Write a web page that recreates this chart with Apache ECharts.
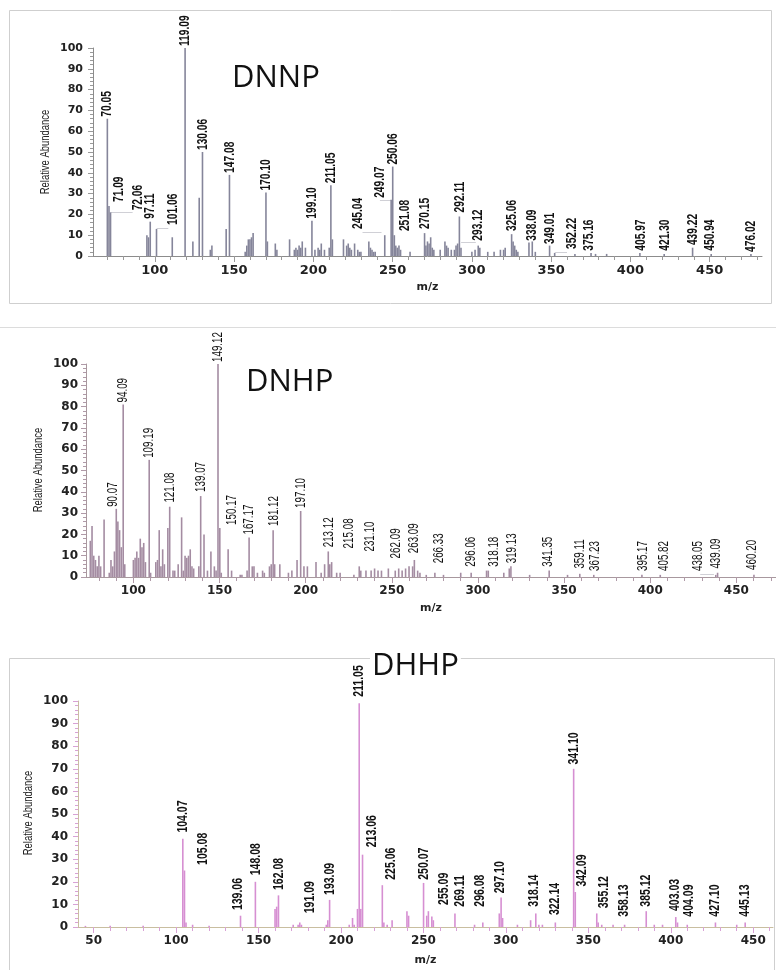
<!DOCTYPE html>
<html>
<head>
<meta charset="utf-8">
<script src="https://cdn.jsdelivr.net/npm/echarts@6/dist/echarts.min.js"></script>
<style>
  html, body { margin: 0; padding: 0; background: #fff; }
  #chart { width: 776px; height: 970px; }
</style>
</head>
<body>
<div id="chart"></div>
<script>
// [m/z, relative abundance]
const dnnpPeaks = [[70.05,66],[71.09,24],[72.06,21],[95,10],[96,9],[97.11,16.5],[101.06,13],[111,9],[119.09,100],[124,7],[128,28],[130.06,50],[135,3],[136,5],[145,13],[147.08,39],[157,2],[158,5],[159,8],[160,8],[161,9],[162,11],[170.10,30.5],[171,7],[176,6],[177,3],[185,8],[188,3],[189,4],[190,3],[191,5],[192,4],[193,7],[195,4],[199.10,17],[201,3],[203,4],[204,3],[205,6],[207,3],[210,4],[211.05,34],[212,8],[219,8],[221,5],[222,6],[223,4],[224,3],[226,6],[228,3],[229,2],[230,2],[235,7],[236,4],[237,3],[238,2],[239,2],[245.04,10],[249.07,27],[250.06,43],[251.08,10],[252,5],[253,4],[254,5],[255,3],[261,2],[270.15,11],[271,5],[272,7],[273,6],[274,9],[275,4],[276,3],[280,3],[283,7],[284,5],[285,4],[287,3],[289,3],[290,5],[291,6],[292.11,19],[293.12,4],[300,2],[302,3],[304,5],[305,4],[310,2],[314,2],[318,3],[320,3],[321,4],[325.06,10.5],[326,7],[327,5],[328,3],[329,2],[336,6.5],[338.09,7],[340,2],[349.01,5],[352.22,1.5],[365,1],[375.16,1.5],[378,1],[385,1],[405.97,1.5],[421.30,1],[439.22,4],[450.94,1],[476.02,1]];
// [text, label m/z, label abundance]
const dnnpLabels = [["70.05",70.05,66],["71.09",77,25],["72.06",89,21],["97.11",97.11,17],["101.06",111.6,14],["119.09",119.09,100],["130.06",130.06,50],["147.08",147.08,39],["170.10",170.10,30.5],["199.10",199.10,17],["211.05",211.05,34],["245.04",228,12],["249.07",242,27],["250.06",250.06,43],["251.08",258,11],["270.15",270.15,12],["292.11",292.11,20],["293.12",304,6.4],["325.06",325.06,11],["338.09",338.09,6.4],["349.01",349.4,4.8],["352.22",362.8,2.4],["375.16",374,1.6],["405.97",406.8,1.6],["421.30",422,1.6],["439.22",439.7,4.3],["450.94",449.8,1.6],["476.02",476,1]];
// leader lines from a peak to its shifted label: [from m/z, to m/z, abundance]
const dnnpLeaders = [[72.2,86,21],[101.2,108.5,13.5],[231,243,11.5],[242,249,27],[293.2,302.5,6.4],[352.5,360,2]];

const dnhpPeaks = [[75,17],[76,24],[77,10],[78,8],[79,5],[80,10],[81,5],[83,27],[86,2],[87,8],[88,5],[89,12],[90.07,32],[91,26],[92,22],[93,14],[94.09,81],[95,6],[100,8],[101,9],[102,12],[103,9],[104,18],[105,14],[106,16],[107,7],[109.19,55],[110,2],[113,7],[114,8],[115,22],[116,5],[117,13],[118,6],[120,23],[121.08,33],[123,3],[124,3],[126,6],[128,28],[129,3],[130,10],[131,9],[132,10],[133,13],[134,5],[135,4],[138,5],[139.07,38],[141,20],[143,3],[145,12],[147,5],[148,3],[149.12,100],[150.17,23],[151,2],[155,13],[157,3],[162,1],[163,1],[166,3],[167.17,18.5],[169,5],[170,5],[172,2],[175,3],[176,2],[179,5],[180,6],[181.12,22],[182,6],[185,6],[190,2],[192,3],[195,8],[197.10,31],[199,5],[201,5],[206,7],[209,2],[211,6],[213.12,12],[214,6],[215.08,7],[218,2],[220,2],[228,1],[231.10,5],[232,3],[235,3],[238,3],[240,4],[242,3],[244,3],[248,4],[252,3],[254,4],[256,3],[258,4],[260,5],[262.09,5],[263.09,8],[265,3],[266.33,2],[270,1],[275,2],[280,1],[290,2],[296.06,2],[305,3],[306,3],[315,2],[318.18,4],[319.13,5],[330,1],[341.35,3],[352,1],[359.11,1.5],[367.23,1],[395.17,1],[405.82,1],[438.05,1],[439.09,2],[460.20,1]];
const dnhpLabels = [["90.07",88,32],["94.09",94.09,81],["109.19",109.19,55],["121.08",121.08,34],["139.07",139.07,39],["149.12",149.12,100],["150.17",157.2,23.5],["167.17",167.17,19],["181.12",181.5,23],["197.10",197.10,31.5],["213.12",213.9,13],["215.08",225.5,12.5],["231.10",237.6,11],["262.09",252.5,7.8],["263.09",263,10.2],["266.33",277.5,5.5],["296.06",296.2,3.9],["318.18",309.2,3.9],["319.13",319.8,5.5],["341.35",341,3.9],["359.11",359.3,3],["367.23",368,1.9],["395.17",395.8,1.9],["405.82",408.3,1.9],["438.05",427.6,1.9],["439.09",438.2,3],["460.20",459.3,2.4]];
const dnhpLeaders = [[429,437,1.5]];

const dhhpPeaks = [[45,0.5],[60,0.5],[80,0.5],[104.07,39],[105.08,25],[106,2],[110,1],[120,0.5],[139.06,5],[148.08,20],[160,8],[161,9],[162.08,14],[171,1],[174,1],[175,2],[176,1],[191.09,1],[192,3],[193.09,12],[205,1],[207,4],[208,1],[210,8],[211.05,99],[212,8],[213.06,32],[225.06,18.5],[226,2],[228,1],[231,3],[240,7],[241,5],[250.07,19.5],[252,5],[253,7],[255.09,4.7],[256,3],[269.11,6],[281,1],[286,2],[296,6],[297.10,13],[298,4],[307,1],[315,3],[318.14,6],[320,1],[322.14,1],[330,2],[341.10,70],[342.09,15.5],[355.12,6],[356,2],[358.13,1],[365,1],[372,1],[385.12,7],[390,1],[395,1],[403.03,4.4],[404.09,2],[410,1],[427.10,2],[440,1],[445.13,2]];
const dhhpLabels = [["104.07",104.07,40.9],["105.08",116.2,26.6],["139.06",137.2,6.6],["148.08",148.08,22],["162.08",162.08,15.5],["191.09",181.3,5.2],["193.09",193.09,13.3],["211.05",211.05,101],["213.06",218.8,34.4],["225.06",230.5,20],["250.07",250.07,20],["255.09",262.2,8.9],["269.11",272.3,8.1],["296.08",284.5,8.1],["297.10",296.6,14],["318.14",317.2,8.1],["322.14",329.4,4.4],["341.10",341.10,71],["342.09",346.2,17],["355.12",359.3,7.4],["358.13",371.4,3.7],["385.12",385.12,8.1],["403.03",402.2,6.2],["404.09",410.9,3.7],["427.10",426.6,3.7],["445.13",444.7,3.7]];
const dhhpLeaders = [];

const ticksA = [100, 150, 200, 250, 300, 350, 400, 450];
const ticksC = [50, 100, 150, 200, 250, 300, 350, 400, 450];
const yTicks = [0, 10, 20, 30, 40, 50, 60, 70, 80, 90, 100];

function tens(min, max) {
  const out = [];
  for (let v = Math.ceil(min / 10) * 10; v <= max; v += 10) out.push(v);
  return out;
}

const panels = [
  { name: 'DNNP', peaks: dnnpPeaks, labels: dnnpLabels, leaders: dnnpLeaders, ticks: ticksA,
    grid: { left: 93, right: 14, top: 48, height: 208 }, min: 61, max: 483,
    bar: '#85859a', axis: '#8c8c8c', tick: '#9a9a9a', lblFont: 'bold 15px "Liberation Sans"', lblScale: 0.68,
    yFont: 11, xFont: 13, yMargin: 10, nameX: 45, nameY: 152, nameGapX: 26 },
  { name: 'DNHP', peaks: dnhpPeaks, labels: dnhpLabels, leaders: dnhpLeaders, ticks: ticksA,
    grid: { left: 86, right: 0, top: 364, height: 213 }, min: 72.5, max: 473,
    bar: '#a48ca2', axis: '#a8989e', tick: '#b09aa8', lblFont: '14px "Liberation Sans"', lblScale: 0.7,
    yFont: 12, xFont: 12, yMargin: 8, nameX: 38, nameY: 470, nameGapX: 26 },
  { name: 'DHHP', peaks: dhhpPeaks, labels: dhhpLabels, leaders: dhhpLeaders, ticks: ticksC,
    grid: { left: 78, right: 3, top: 701, height: 226 }, min: 40.5, max: 462,
    bar: '#d68fd2', axis: '#c9bea0', tick: '#d8a2d6', lblFont: 'bold 15px "Liberation Sans"', lblScale: 0.7,
    yFont: 12, xFont: 12, yMargin: 10, nameX: 28, nameY: 813, nameGapX: 28 }
];

const grid = [], xAxis = [], yAxis = [], series = [], yNames = [];
panels.forEach((p, i) => {
  grid.push(p.grid);
  xAxis.push({
    type: 'value', gridIndex: i, min: p.min, max: p.max,
    name: 'm/z', nameLocation: 'middle', nameGap: p.nameGapX,
    nameTextStyle: { fontFamily: 'DejaVu Sans', fontWeight: 'bold', fontSize: 11, color: '#222' },
    axisLine: { show: true, onZero: false, lineStyle: { color: p.axis, width: 1 } },
    axisTick: { show: true, length: 4, customValues: tens(p.min, p.max), lineStyle: { color: p.tick } },
    axisLabel: { customValues: p.ticks, margin: 8, fontFamily: 'DejaVu Sans', fontWeight: 'bold',
      fontSize: p.xFont, color: '#222' },
    splitLine: { show: false }
  });
  // longer ticks at the labelled values
  xAxis.push({
    type: 'value', gridIndex: i, min: p.min, max: p.max, position: 'bottom',
    axisLine: { show: false, onZero: false },
    axisTick: { show: true, length: 6, customValues: p.ticks, lineStyle: { color: p.tick } },
    axisLabel: { show: false }, splitLine: { show: false }
  });
  yAxis.push({
    type: 'value', gridIndex: i, min: 0, max: 100, interval: 10,
    axisLine: { show: true, lineStyle: { color: p.axis } },
    axisTick: { show: true, length: 5, lineStyle: { color: p.tick } },
    minorTick: { show: true, splitNumber: 5, length: 3, lineStyle: { color: p.tick } },
    axisLabel: { margin: p.yMargin, fontFamily: 'DejaVu Sans', fontWeight: 'bold', fontSize: p.yFont,
      color: '#222', customValues: yTicks },
    splitLine: { show: false }
  });
  series.push({
    type: 'bar', xAxisIndex: i * 2, yAxisIndex: i, data: p.peaks,
    barWidth: 1.6, itemStyle: { color: p.bar }, silent: true, animation: false
  });
  series.push({
    type: 'lines', coordinateSystem: 'cartesian2d', xAxisIndex: i * 2, yAxisIndex: i,
    silent: true, animation: false,
    data: p.leaders.map(l => ({ coords: [[l[0], l[2]], [l[1], l[2]]] })),
    lineStyle: { color: '#c4c4cc', width: 0.8, opacity: 1 }
  });
  // peak labels: rotated, condensed text anchored at the label's data point
  series.push({
    type: 'custom', xAxisIndex: i * 2, yAxisIndex: i, silent: true, animation: false, clip: false, z: 5,
    data: p.labels.map(l => [l[1], l[2]]),
    encode: { x: 0, y: 1 },
    renderItem: (params, api) => {
      const pt = api.coord([api.value(0), api.value(1)]);
      return {
        type: 'text', x: pt[0], y: pt[1] - 2, rotation: Math.PI / 2, scaleX: p.lblScale,
        style: { text: p.labels[params.dataIndex][0], font: p.lblFont, fill: '#111',
          align: 'left', verticalAlign: 'middle' }
      };
    }
  });
  yNames.push({
    type: 'text', x: p.nameX, y: p.nameY, rotation: Math.PI / 2, scaleX: 0.7, z: 10,
    style: { text: 'Relative Abundance', font: '13.5px "Liberation Sans"', fill: '#222',
      align: 'center', verticalAlign: 'middle' }
  });
});

const chart = echarts.init(document.getElementById('chart'), null, { renderer: 'canvas' });
chart.setOption({
  backgroundColor: '#fff',
  animation: false,
  title: [
    { text: 'DNNP', left: 232, top: 63, padding: 0, z: 10,
      textStyle: { fontFamily: 'Open Sans', fontWeight: 'normal', fontSize: 31, color: '#111' } },
    { text: 'DNHP', left: 246, top: 367, padding: 0, z: 10,
      textStyle: { fontFamily: 'Open Sans', fontWeight: 'normal', fontSize: 31, color: '#111' } },
    { text: 'DHHP', left: 370, top: 651, padding: [0, 2], z: 10, backgroundColor: '#fff',
      textStyle: { fontFamily: 'Open Sans', fontWeight: 'normal', fontSize: 31, color: '#111' } }
  ],
  graphic: [
    { type: 'rect', z: -1, shape: { x: 9.5, y: 10.5, width: 762, height: 293 },
      style: { fill: 'none', stroke: '#cfcfcf', lineWidth: 1 } },
    { type: 'line', z: -1, shape: { x1: 0, y1: 327.5, x2: 776, y2: 327.5 },
      style: { stroke: '#dcdcdc', lineWidth: 1 } },
    { type: 'rect', z: -1, shape: { x: 9.5, y: 658.5, width: 765, height: 400 },
      style: { fill: 'none', stroke: '#cfcfcf', lineWidth: 1 } }
  ].concat(yNames),
  grid, xAxis, yAxis, series
});
</script>
</body>
</html>
